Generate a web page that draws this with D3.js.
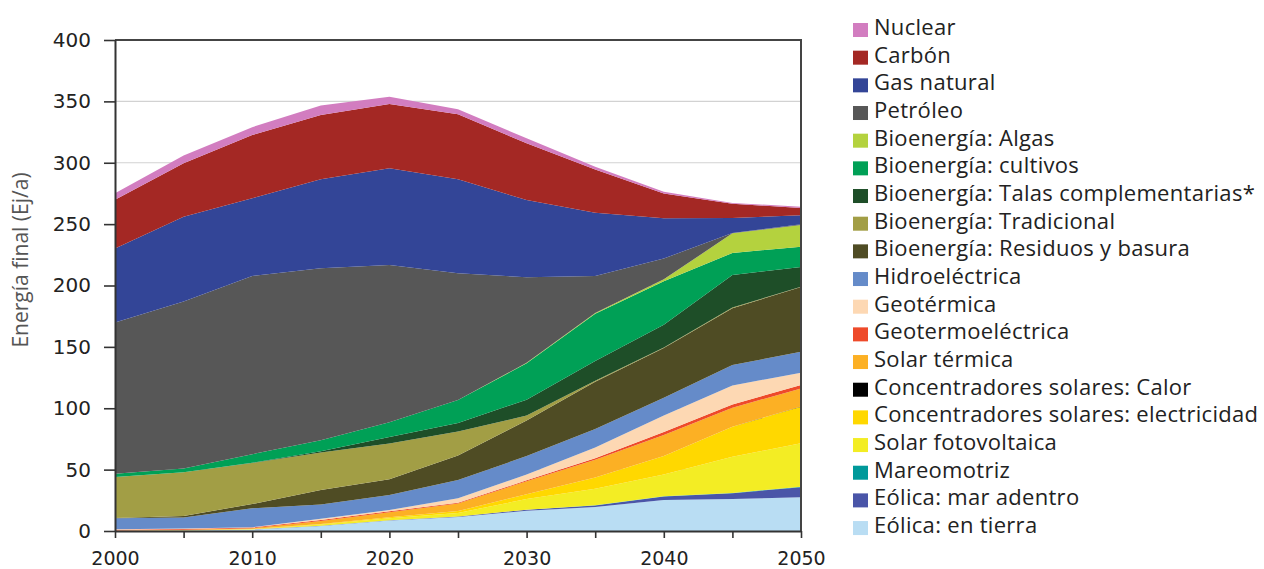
<!DOCTYPE html>
<html><head><meta charset="utf-8">
<script src="https://cdn.jsdelivr.net/npm/d3@7"></script>
<style>body{margin:0;background:#fff} svg{display:block}</style>
</head><body>
<svg id="c" width="1264" height="569"></svg>
<script>
// ---- data (Ej/a), years at 5-year steps ----
const years = [2000, 2005, 2010, 2015, 2020, 2025, 2030, 2035, 2040, 2045, 2050];
const eolicaTierra   = [0.2, 0.5, 1.2, 4.0, 8.5, 11.5, 16.5, 19.5, 25.3, 26.0, 27.5];
const eolicaMar      = [0, 0, 0.1, 0.2, 0.3, 0.4, 0.8, 1.3, 2.8, 4.8, 8.2];
const mareomotriz    = [0, 0, 0, 0, 0, 0, 0.1, 0.2, 0.2, 0.2, 0.3];
const solarFV        = [0, 0.1, 0.3, 1.0, 1.5, 2.8, 8.6, 13.5, 17.7, 29.5, 35.4];
const cspElec        = [0, 0, 0.1, 0.5, 1.0, 1.5, 4.0, 9.0, 15.0, 24.5, 29.9];
const cspCalor       = [0, 0, 0, 0, 0, 0, 0, 0, 0, 0, 0.2];
const solarTermica   = [0.3, 0.4, 0.6, 2.5, 4.0, 6.2, 10.5, 14.5, 17.2, 15.5, 14.5];
const geotermoelec   = [0.6, 0.7, 0.5, 0.8, 0.8, 0.6, 0.8, 1.2, 2.5, 2.5, 3.0];
const geotermica     = [0.4, 0.4, 0.3, 1.0, 1.0, 3.6, 4.7, 8.8, 13.3, 15.5, 10.0];
const hidro          = [8.8, 9.0, 15.4, 11.5, 12.2, 14.9, 15.0, 15.0, 14.5, 16.7, 17.0];
const bioResiduos    = [0.3, 1.2, 3.5, 11.9, 12.9, 20.0, 29.0, 38.5, 40.5, 46.3, 52.7];
const bioTradicional = [33.3, 35.5, 33.3, 30.6, 29.0, 19.5, 4.0, 1.0, 0.5, 0.5, 0.3];
const bioTalas       = [0, 0, 0.3, 1.0, 5.3, 7.0, 13.0, 16.0, 18.5, 26.6, 16.0];
const bioCultivos    = [2.8, 3.2, 7.0, 9.0, 12.0, 18.7, 29.6, 38.5, 35.5, 17.9, 16.6];
const bioAlgas       = [0, 0, 0, 0, 0, 0, 0.4, 0.5, 1.5, 16.0, 17.7];
const petroleo       = [123.2, 136.0, 145.1, 140.0, 128.2, 103.3, 69.7, 30.2, 17.0, 0.2, 0.5];
const gasNatural     = [60.3, 69.0, 63.3, 72.5, 78.8, 76.5, 62.9, 51.6, 32.7, 12.3, 7.4];
const carbon         = [39.6, 43.5, 51.6, 52.5, 52.3, 53.0, 46.2, 35.3, 20.3, 11.6, 6.0];
const nuclear        = [5.4, 6.5, 6.4, 7.7, 6.0, 4.0, 4.2, 2.2, 1.4, 0.7, 1.0];

const yTicks = [0, 50, 100, 150, 200, 250, 300, 350, 400];
const xLabelYears = [2000, 2010, 2020, 2030, 2040, 2050];

// series, bottom of the stack first
const seriesNames = [
  "Eólica: en tierra", "Eólica: mar adentro", "Mareomotriz", "Solar fotovoltaica",
  "Concentradores solares: electricidad", "Concentradores solares: Calor", "Solar térmica",
  "Geotermoeléctrica", "Geotérmica", "Hidroeléctrica", "Bioenergía: Residuos y basura",
  "Bioenergía: Tradicional", "Bioenergía: Talas complementarias*", "Bioenergía: cultivos",
  "Bioenergía: Algas", "Petróleo", "Gas natural", "Carbón", "Nuclear"
];
const seriesValues = [
  eolicaTierra, eolicaMar, mareomotriz, solarFV, cspElec, cspCalor, solarTermica,
  geotermoelec, geotermica, hidro, bioResiduos, bioTradicional, bioTalas, bioCultivos,
  bioAlgas, petroleo, gasNatural, carbon, nuclear
];
const seriesColors = [
  "#b9ddf3", "#4a55a8", "#00999a", "#f3ed24", "#ffd800", "#000000", "#fcb024",
  "#ee4a2a", "#fdd8b3", "#658bc9", "#4f4c24", "#a29e45", "#1e4e28", "#00a056",
  "#b4d23e", "#575757", "#334597", "#a42824", "#d27dc0"
];

// ---- build table ----
const table = years.map((yr, i) => {
  const row = {year: yr};
  seriesNames.forEach((n, k) => row[n] = seriesValues[k][i]);
  return row;
});

const svg = d3.select("#c");
const m = {left: 115, right: 801, top: 40, bottom: 531};

const x = d3.scaleLinear().domain([2000, 2050]).range([m.left, m.right]);
const y = d3.scaleLinear().domain([0, 400]).range([m.bottom, m.top]);

// gridlines
svg.append("g").selectAll("line").data(yTicks.filter(t => t > 0 && t < 400)).join("line")
  .attr("x1", m.left).attr("x2", m.right)
  .attr("y1", d => y(d)).attr("y2", d => y(d))
  .attr("stroke", "#d2d2d2").attr("stroke-width", 1.2);

// stacked areas
const stack = d3.stack().keys(seriesNames);
const layers = stack(table);
const area = d3.area()
  .x(d => x(d.data.year))
  .y0(d => y(d[0]))
  .y1(d => y(d[1]));

svg.append("g").selectAll("path").data(layers).join("path")
  .attr("d", area)
  .attr("fill", (d, i) => seriesColors[i]);

// border top & right
svg.append("path")
  .attr("d", `M${m.left},${m.top}H${m.right}V${m.bottom}`)
  .attr("fill", "none").attr("stroke", "#444").attr("stroke-width", 2);

// axes
const yAxis = d3.axisLeft(y).tickValues(yTicks).tickSize(11).tickPadding(13).tickFormat(d3.format("d"));
const gy = svg.append("g").attr("transform", `translate(${m.left},0)`).call(yAxis);
const xAxis = d3.axisBottom(x).tickValues(years).tickSize(7).tickPadding(14)
  .tickFormat(d => xLabelYears.includes(d) ? String(d) : "");
const gx = svg.append("g").attr("transform", `translate(0,${m.bottom})`).call(xAxis);

[gx, gy].forEach(g => {
  g.select(".domain").attr("stroke", "#333").attr("stroke-width", 2);
  g.selectAll(".tick line").attr("stroke", "#333").attr("stroke-width", 1.6);
  g.selectAll("text").attr("font-family", "DejaVu Sans, Verdana, sans-serif")
    .attr("font-size", 20).attr("fill", "#222");
});
gx.selectAll("text").attr("font-size", 19);
gx.select(".domain").attr("d", `M${m.left},0.5H${m.right}`);
gy.select(".domain").attr("d", `M0.5,${m.top}V${m.bottom}`);

// y axis title
svg.append("text")
  .attr("transform", "translate(28,260) rotate(-90)")
  .attr("text-anchor", "middle")
  .attr("font-family", "Open Sans, sans-serif")
  .attr("font-size", 21)
  .attr("fill", "#555")
  .text("Energía final (Ej/a)");

// legend (top of stack first)
const legendOrder = d3.range(seriesNames.length).reverse();
const lg = svg.append("g");
const rowH = 27.67;
legendOrder.forEach((k, j) => {
  const base = 35 + j * rowH;
  lg.append("rect").attr("x", 853).attr("y", base - 12).attr("width", 15).attr("height", 14)
    .attr("fill", seriesColors[k]);
  lg.append("text").attr("x", 874).attr("y", base)
    .attr("font-family", "Open Sans, sans-serif").attr("font-size", 22)
    .attr("letter-spacing", 0.3)
    .attr("fill", "#222")
    .text(seriesNames[k]);
});
</script>
</body></html>
